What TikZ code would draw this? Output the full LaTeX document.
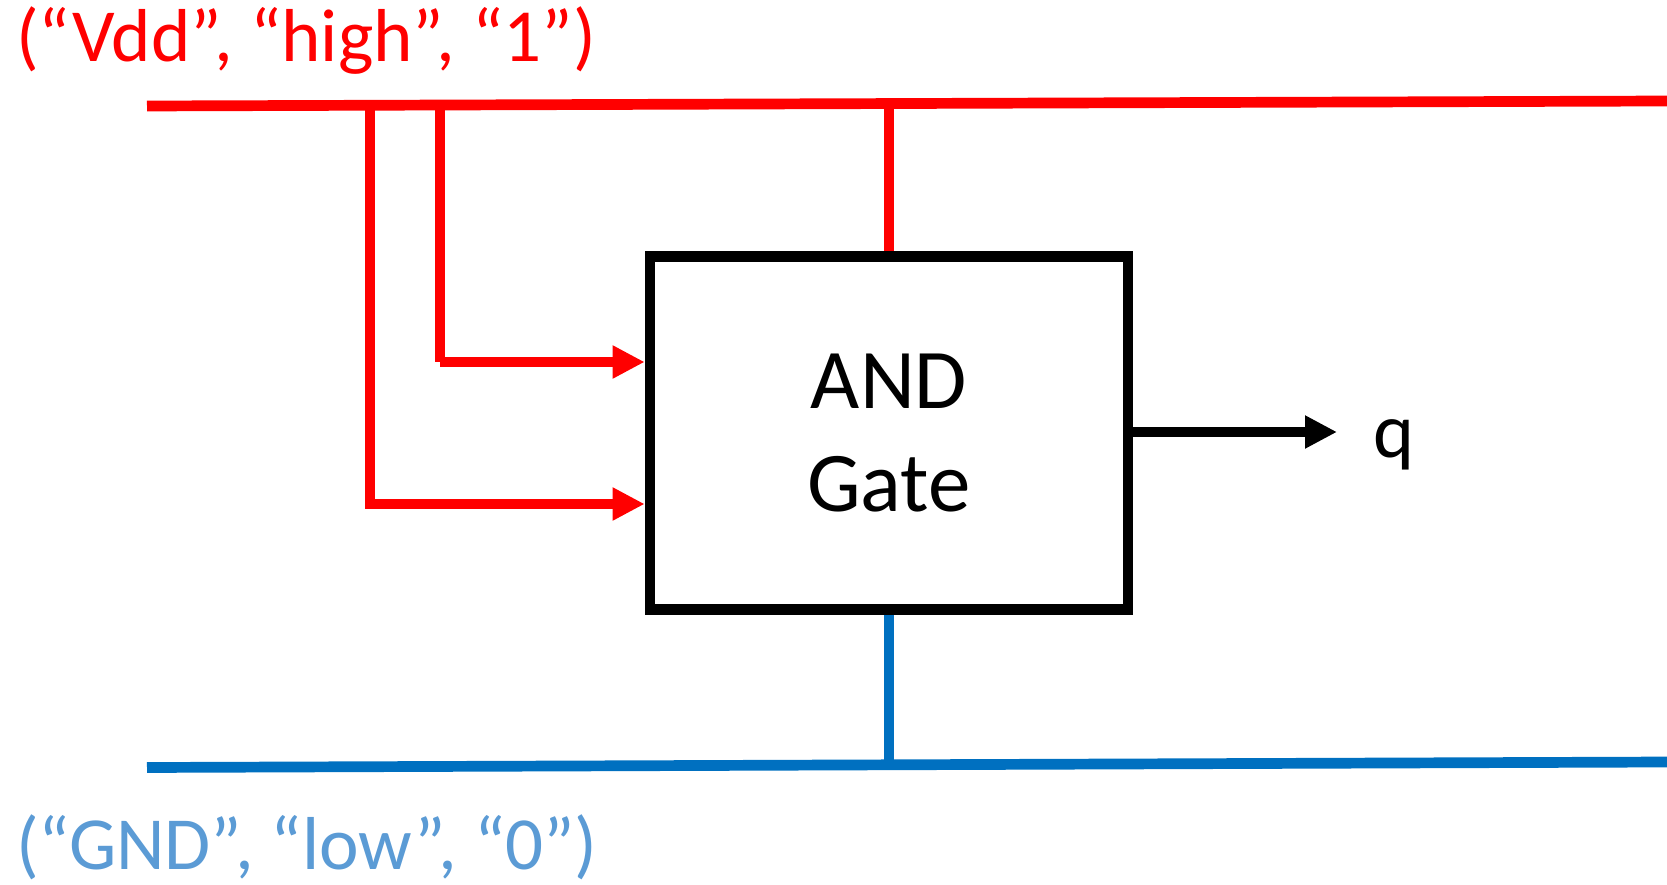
\documentclass[tikz,border=0pt]{standalone}
\usepackage{fontspec}
\setmainfont{Carlito}
\usetikzlibrary{arrows.meta}
\definecolor{vddred}{HTML}{FF0000}
\definecolor{gndblue}{HTML}{0070C0}
\definecolor{gndtext}{HTML}{5B9BD5}
\tikzset{
  rail/.style={line width=10.7pt},
  redwire/.style={rail, draw=vddred},
  bluewire/.style={rail, draw=gndblue},
  inarrow/.style={redwire, -{Triangle[length=32pt,width=31pt]}},
  outarrow/.style={line width=10.7pt, draw=black, -{Triangle[length=32pt,width=31pt]}},
  gatebox/.style={draw=black, line width=10.7pt, fill=white, minimum width=478pt, minimum height=353pt, inner sep=0pt, align=center, font=\fontsize{85}{103}\selectfont},
  label/.style={inner sep=0pt, font=\fontsize{75}{90}\selectfont},
  qlabel/.style={inner sep=0pt, font=\fontsize{78}{90}\selectfont}
}
\begin{document}
\begin{tikzpicture}[x=1pt,y=-1pt]
\useasboundingbox (0,0) rectangle (1667,885);
% rails
\coordinate (vddL) at (147,106);
\coordinate (vddR) at (1667,101);
\coordinate (gndL) at (147,767.5);
\coordinate (gndR) at (1667,762);
\draw[redwire] (vddL) -- (vddR);
\draw[bluewire] (gndL) -- (gndR);
% gate
\node[gatebox] (gate) at (889,433) {AND\\Gate};
% taps
\coordinate (tapA) at (370,105.3);
\coordinate (tapB) at (440,105);
\coordinate (tapC) at (889,103.6);
\coordinate (tapG) at (889,767);
\coordinate (cornerA) at (370,504);
\coordinate (cornerB) at (440,362);
\draw[redwire] (tapC) -- (gate.north);
\draw[bluewire] (gate.south) -- (tapG);
\draw[redwire] (tapA) -- ([yshift=5pt]cornerA);
\draw[redwire] (tapB) -- (cornerB);
\draw[inarrow] ([xshift=-5pt]cornerA) -- (gate.west |- cornerA);
\draw[inarrow] (cornerB) -- (gate.west |- cornerB);
% output
\coordinate (qtip) at (1337,432);
\draw[outarrow] (gate.east |- qtip) -- (qtip);
\node[qlabel, anchor=base west] (q) at (1373,457) {q};
% rail labels
\node[label, anchor=base west, text=vddred] (vddlab) at (16,62) {(“Vdd”, “high”, “1”)};
\node[label, anchor=base west, text=gndtext] (gndlab) at (16,869) {(“GND”, “low”, “0”)};
\end{tikzpicture}
\end{document}
